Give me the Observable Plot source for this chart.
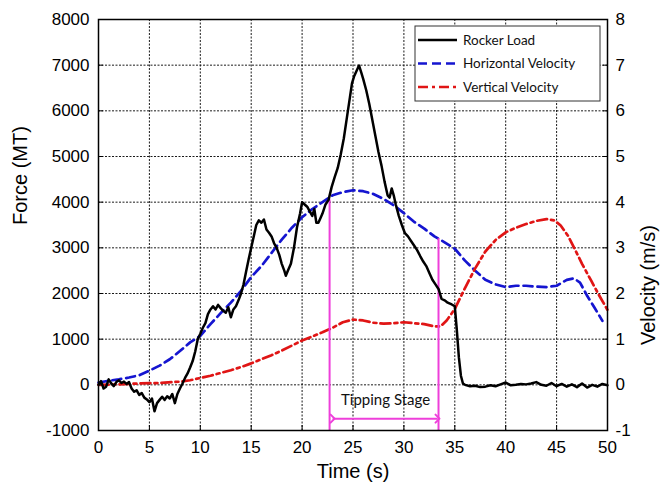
<!DOCTYPE html>
<html><head><meta charset="utf-8">
<script src="https://cdn.jsdelivr.net/npm/d3@7"></script>
<script src="https://cdn.jsdelivr.net/npm/@observablehq/plot@0.6"></script>
<style>body{margin:0;background:#fff} #chart{width:661px;height:488px}</style>
</head><body><div id="chart"></div>
<script>
// Rocker load (MT)
const loadTime = [0,0.25,0.5,0.75,1,1.25,1.5,1.75,2,2.25,2.5,2.75,3,3.25,3.5,3.75,4,4.25,4.5,4.75,5,5.25,5.5,5.75,6,6.25,6.5,6.75,7,7.25,7.5,7.75,8,8.25,8.5,8.75,9,9.25,9.5,9.75,10,10.25,10.5,10.75,11,11.25,11.5,11.75,12,12.25,12.5,12.75,13,13.25,13.5,13.75,14,14.25,14.5,14.75,15,15.25,15.5,15.75,16,16.25,16.5,16.75,17,17.25,17.5,17.75,18,18.25,18.4,18.6,18.9,19.2,19.5,19.8,20,20.25,20.5,20.75,21,21.2,21.4,21.6,21.8,22,22.3,22.6,22.9,23.2,23.5,23.8,24.1,24.4,24.7,24.9,25.1,25.3,25.5,25.6,25.8,26,26.3,26.6,26.9,27.2,27.5,27.8,28.1,28.4,28.6,28.8,29,29.2,29.5,29.8,30.1,30.4,30.7,31,31.3,31.6,31.9,32.2,32.5,32.8,33.1,33.4,33.7,34,34.3,34.7,35,35.2,35.4,35.6,35.8,36,36.5,37,37.5,38,38.5,39,39.5,40,40.5,41,41.5,42,42.5,43,43.5,44,44.5,45,45.5,46,46.5,47,47.5,48,48.5,49,49.5,50];
const loadForce = [0,80,-80,-40,120,30,-30,60,100,40,70,20,60,-80,-150,-120,-220,-180,-280,-320,-380,-300,-580,-400,-330,-260,-330,-250,-300,-200,-400,-200,-80,30,150,250,380,520,730,1000,1120,1250,1350,1550,1650,1720,1650,1750,1680,1620,1580,1700,1480,1650,1720,1850,2000,2200,2480,2750,3000,3250,3500,3600,3550,3620,3400,3330,3250,3100,3000,2850,2650,2500,2390,2500,2650,3000,3450,3750,4000,3950,3900,3800,3700,3850,3550,3550,3650,3750,3950,4050,4330,4550,4750,5050,5400,5850,6300,6600,6750,6850,6950,6990,6850,6700,6450,6150,5800,5450,5100,4800,4450,4150,4100,4300,4150,3950,3700,3500,3320,3250,3150,3050,2950,2820,2700,2600,2450,2300,2200,2100,1880,1850,1800,1760,1720,1200,600,200,30,0,-30,-20,-50,-40,-10,-30,10,50,-10,0,20,10,30,60,0,-20,40,-30,20,-40,10,-50,30,-60,0,-40,20,-10];
// Horizontal velocity (m/s)
const hvTime = [0,1,2,3,4,5,6,7,8,9,10,11,12,13,14,15,16,17,18,19,20,21,22,23,24,25,26,27,28,29,30,31,32,33,34,35,36,37,38,39,40,41,42,43,44,45,46,46.7,47.3,48,48.7,49.5];
const hvVel = [0.05,0.09,0.12,0.16,0.21,0.31,0.42,0.56,0.74,0.93,1.07,1.33,1.57,1.80,2.06,2.36,2.60,2.89,3.18,3.44,3.67,3.85,4.0,4.15,4.22,4.26,4.24,4.18,4.07,3.93,3.76,3.57,3.42,3.25,3.12,2.98,2.72,2.5,2.3,2.2,2.14,2.17,2.17,2.15,2.14,2.17,2.3,2.33,2.24,1.95,1.70,1.40];
// Vertical velocity (m/s)
const vvTime = [0,2,4,6,8,9,10,11,12,13,14,15,16,17,18,19,20,21,22,23,24,25,26,27,28,29,30,31,32,33,33.6,34.2,35,36,37,38,39,40,41,42,43,44,44.8,45.4,46.1,46.7,47.5,48.4,49.2,50];
const vvVel = [0,0.01,0.03,0.04,0.07,0.1,0.15,0.2,0.26,0.32,0.39,0.47,0.56,0.65,0.75,0.86,0.97,1.06,1.15,1.25,1.37,1.43,1.41,1.36,1.34,1.35,1.37,1.35,1.33,1.28,1.28,1.41,1.66,2.12,2.55,2.92,3.17,3.34,3.44,3.52,3.59,3.63,3.6,3.49,3.27,3.01,2.65,2.28,1.95,1.64];
// Ticks
const xTicks = [0,5,10,15,20,25,30,35,40,45,50];
const forceTicks = [-1000,0,1000,2000,3000,4000,5000,6000,7000,8000];
// Tipping stage annotation
const stageTimes = [22.7, 33.4];
const stageTops = [4050, 3200];
const arrowSpan = [23.0, 33.3];
const arrowForce = -740;
const stageLabel = "Tipping Stage";
const stageLabelPos = [28.2, -330];
// Legend
const seriesNames = ["Rocker Load", "Horizontal Velocity", "Vertical Velocity"];
const seriesColors = ["#000000", "#1515d0", "#e01515"];
const seriesDash = [null, "9,5", "10,4,3,4"];

const load = loadTime.map((t, i) => ({t, v: loadForce[i]}));
const hv = hvTime.map((t, i) => ({t, v: hvVel[i] * 1000}));
const vv = vvTime.map((t, i) => ({t, v: vvVel[i] * 1000}));
const stage = stageTimes.map((t, i) => ({t, top: stageTops[i]}));
const magenta = "#ee3fda";

const gridStyle = {stroke: "#000", strokeOpacity: 0.9, strokeDasharray: "2,1.5", strokeWidth: 1};

const chart = Plot.plot({
  width: 661, height: 488,
  marginLeft: 98, marginRight: 54, marginTop: 19, marginBottom: 58,
  style: {fontFamily: '"Liberation Sans", Arial, sans-serif', fontSize: "17px", color: "#000", background: "#fff", overflow: "visible"},
  x: {domain: [0, 50]},
  y: {domain: [-1000, 8000]},
  marks: [
    Plot.gridX(xTicks, gridStyle),
    Plot.gridY(forceTicks, gridStyle),
    Plot.line(hv, {x: "t", y: "v", stroke: seriesColors[1], strokeWidth: 2.7, strokeDasharray: seriesDash[1]}),
    Plot.line(vv, {x: "t", y: "v", stroke: seriesColors[2], strokeWidth: 2.7, strokeDasharray: seriesDash[2]}),
    Plot.ruleX(stage, {x: "t", y1: -1000, y2: "top", stroke: magenta, strokeWidth: 2}),
    Plot.link([{x1: arrowSpan[0], x2: arrowSpan[1], y: arrowForce}], {x1: "x1", x2: "x2", y1: "y", y2: "y", stroke: magenta, strokeWidth: 2, markerStart: "arrow", markerEnd: "arrow"}),
    Plot.text([stageLabel], {x: () => stageLabelPos[0], y: () => stageLabelPos[1], text: d => d, fontFamily: "Lato, sans-serif", fontSize: 15, fill: "#111"}),
    Plot.line(load, {x: "t", y: "v", stroke: seriesColors[0], strokeWidth: 2.5}),
    Plot.frame({stroke: "#000", strokeWidth: 1.5}),
    Plot.axisY(forceTicks, {anchor: "left", tickSize: -5, tickPadding: 14, tickFormat: d => String(d), label: null}),
    Plot.axisY(forceTicks, {anchor: "right", tickSize: -5, tickPadding: 13, tickFormat: d => String(d / 1000), label: null}),
    Plot.axisX(xTicks, {anchor: "bottom", tickSize: -5, tickPadding: 15, tickFormat: d => String(d), label: null}),
    Plot.text(["Time (s)"], {frameAnchor: "bottom", dy: 47, fontSize: 20}),
    Plot.text(["Force (MT)"], {frameAnchor: "left", dx: -78, rotate: -90, fontSize: 20}),
    Plot.text(["Velocity (m/s)"], {frameAnchor: "right", dx: 41, rotate: -90, fontSize: 20})
  ]
});
document.getElementById("chart").appendChild(chart);

// Legend box inside the plot (top right)
const svg = d3.select(chart);
const lg = svg.append("g").attr("transform", "translate(415,26)");
lg.append("rect").attr("width", 185).attr("height", 75).attr("fill", "#fff").attr("stroke", "#333").attr("stroke-width", 1);
seriesNames.forEach((name, i) => {
  const y = 14 + i * 23.5;
  lg.append("line").attr("x1", 3).attr("x2", 42).attr("y1", y).attr("y2", y)
    .attr("stroke", seriesColors[i]).attr("stroke-width", i === 0 ? 2.5 : 2.7)
    .attr("stroke-dasharray", seriesDash[i]);
  lg.append("text").attr("x", 48).attr("y", y).attr("dy", "0.35em").attr("text-anchor", "start")
    .attr("font-family", "Lato, sans-serif").attr("font-size", 13.5).attr("fill", "#111").text(name);
});
</script>
</body></html>
